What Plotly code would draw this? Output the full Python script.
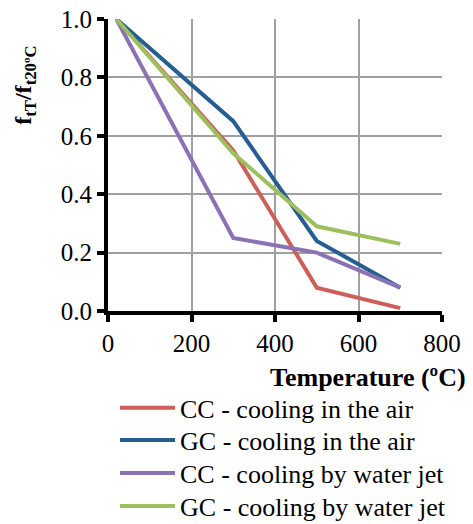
import plotly.graph_objects as go

temps = [20, 300, 500, 700]
cc_air = [1.0, 0.55, 0.08, 0.01]
gc_air = [1.0, 0.65, 0.24, 0.08]
cc_water = [1.0, 0.25, 0.20, 0.08]
gc_water = [1.0, 0.54, 0.29, 0.23]

names = ["CC - cooling in the air", "GC - cooling in the air",
         "CC - cooling by water jet", "GC - cooling by water jet"]
series = [cc_air, gc_air, cc_water, gc_water]
colors = ["#CD5F58", "#265E92", "#8B72B4", "#9DC05F"]

x_ticks = [0, 200, 400, 600, 800]
y_ticks = [0.0, 0.2, 0.4, 0.6, 0.8, 1.0]

font_family = "Liberation Serif, Times New Roman, serif"
legend_ids = ["legend", "legend2", "legend3", "legend4"]
legend_y = [-0.332, -0.442, -0.555, -0.668]

fig = go.Figure()
for n, s, c, lid in zip(names, series, colors, legend_ids):
    fig.add_trace(go.Scatter(x=temps, y=s, name=n, mode="lines",
                             line=dict(color=c, width=4), legend=lid))

legend_common = dict(x=0.021, xanchor="left", yanchor="middle",
                     font=dict(family=font_family, size=26, color="black"),
                     itemwidth=55, bgcolor="rgba(0,0,0,0)", borderwidth=0)
layout_legends = {lid: dict(y=ly, **legend_common) for lid, ly in zip(legend_ids, legend_y)}

fig.update_layout(
    width=465, height=516,
    margin=dict(l=100, r=31, t=11, b=213, autoexpand=False),
    paper_bgcolor="white", plot_bgcolor="white",
    font=dict(family=font_family, color="black", size=26),
    showlegend=True,
    xaxis=dict(range=[0, 800], tickvals=x_ticks, ticktext=[str(v) for v in x_ticks],
               showgrid=True, gridcolor="#A0A0A0", gridwidth=2,
               showline=True, linecolor="black", linewidth=4,
               ticks="outside", ticklen=7, tickwidth=4, tickcolor="black",
               tickfont=dict(family=font_family, size=25), zeroline=False,
               ticklabeloverflow="allow"),
    yaxis=dict(range=[0, 1.0], tickvals=y_ticks, ticktext=["%.1f" % v for v in y_ticks],
               showgrid=True, gridcolor="#A0A0A0", gridwidth=2,
               showline=True, linecolor="black", linewidth=4,
               ticks="outside", ticklen=7, tickwidth=4, tickcolor="black",
               tickfont=dict(family=font_family, size=25), zeroline=False,
               ticklabeloverflow="allow"),
    **layout_legends,
)
fig.add_annotation(text="<b>f<sub>tT</sub>/f<sub>t20ºC</sub></b>", xref="paper", yref="paper",
                   x=-0.249, y=0.774, xanchor="center", yanchor="middle", textangle=-90,
                   showarrow=False, font=dict(family=font_family, size=24, color="black"))
fig.add_annotation(text="<b>Temperature (ºC)</b>", xref="paper", yref="paper",
                   x=1.078, y=-0.229, xanchor="right", yanchor="middle",
                   showarrow=False, font=dict(family=font_family, size=26, color="black"))
fig.write_html("out.html")
